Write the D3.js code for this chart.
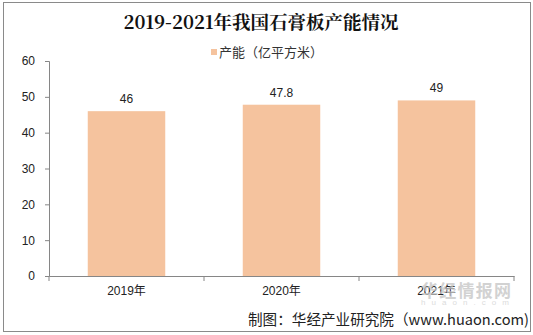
<!DOCTYPE html>
<html>
<head>
<meta charset="utf-8">
<script src="https://cdn.jsdelivr.net/npm/d3@7"></script>
<style>
  html, body { margin: 0; padding: 0; background: #fff; }
  svg { display: block; }
</style>
</head>
<body>
<svg id="chart" width="533" height="335"></svg>
<script>
// Gypsum board production capacity, 2019–2021 (100 million m²)
const years = ["2019年", "2020年", "2021年"];
const capacity = [46, 47.8, 49];
const yTicks = [0, 10, 20, 30, 40, 50, 60];
const titleText = "2019-2021年我国石膏板产能情况";
const legendText = "产能（亿平方米）";
const sourceText = "制图：华经产业研究院（www.huaon.com)";

const W = 533, H = 335;
const barColor = "#f5c39e";
const axisColor = "#868686";
const sans = "Arial, 'Liberation Sans', 'Noto Sans CJK SC', sans-serif";

const svg = d3.select("#chart");

// outer frame
svg.append("rect")
  .attr("x", 3.5).attr("y", 2.5)
  .attr("width", 527).attr("height", 329)
  .attr("fill", "#fff")
  .attr("stroke", "#8a8a8a")
  .attr("stroke-width", 1);

const plot = { left: 49, right: 514, top: 61, bottom: 276 };

const x = d3.scaleBand()
  .domain(years)
  .range([plot.left, plot.right])
  .paddingInner(0.5)
  .paddingOuter(0.25);

const y = d3.scaleLinear()
  .domain([0, 60])
  .range([plot.bottom, plot.top]);

// title
svg.append("text")
  .attr("x", 261).attr("y", 29)
  .attr("text-anchor", "middle")
  .attr("font-family", "'Noto Serif CJK SC', 'Liberation Serif', 'Noto Sans CJK SC', serif")
  .attr("font-weight", "bold")
  .attr("font-size", 18.5)
  .attr("fill", "#111")
  .text(titleText);

// legend
svg.append("rect")
  .attr("x", 211).attr("y", 49)
  .attr("width", 6).attr("height", 6)
  .attr("fill", barColor);
svg.append("text")
  .attr("x", 219).attr("y", 57)
  .attr("font-family", "'Noto Sans CJK SC', sans-serif")
  .attr("font-size", 13)
  .attr("fill", "#333")
  .text(legendText);

// bars
svg.append("g")
  .selectAll("rect")
  .data(capacity)
  .join("rect")
  .attr("x", (d, i) => x(years[i]))
  .attr("y", d => y(d))
  .attr("width", x.bandwidth())
  .attr("height", d => y(0) - y(d))
  .attr("fill", barColor);

// value labels
svg.append("g")
  .selectAll("text")
  .data(capacity)
  .join("text")
  .attr("x", (d, i) => x(years[i]) + x.bandwidth() / 2)
  .attr("y", d => y(d) - 8)
  .attr("text-anchor", "middle")
  .attr("font-family", sans)
  .attr("font-size", 12)
  .attr("fill", "#222")
  .text(d => d);

// y axis
const yAxis = svg.append("g")
  .attr("transform", `translate(${plot.left},0)`)
  .call(d3.axisLeft(y).tickValues(yTicks).tickSize(4).tickPadding(10));
yAxis.select(".domain").attr("stroke", axisColor);
yAxis.selectAll(".tick line").attr("stroke", axisColor);
yAxis.selectAll(".tick text")
  .attr("font-family", sans)
  .attr("font-size", 12)
  .attr("fill", "#222");

// x axis
const xAxis = svg.append("g")
  .attr("transform", `translate(0,${plot.bottom})`)
  .call(d3.axisBottom(x).tickSize(0).tickPadding(10));
xAxis.select(".domain").attr("stroke", axisColor);
xAxis.selectAll(".tick text")
  .attr("font-family", sans)
  .attr("font-size", 12)
  .attr("fill", "#222");

// category separators on the x axis
const edges = d3.range(years.length + 1).map(i => plot.left + i * x.step());
svg.append("g")
  .selectAll("line")
  .data(edges)
  .join("line")
  .attr("x1", d => d).attr("x2", d => d)
  .attr("y1", plot.bottom).attr("y2", plot.bottom + 5)
  .attr("stroke", axisColor);

// watermark
svg.append("text")
  .attr("x", 421).attr("y", 297)
  .attr("font-family", "'Noto Sans CJK SC', sans-serif")
  .attr("font-weight", "bold")
  .attr("font-size", 17)
  .attr("textLength", 90)
  .attr("fill", "#c4c4c4")
  .attr("opacity", 0.75)
  .text("华经情报网");
svg.append("text")
  .attr("x", 421).attr("y", 305)
  .attr("font-family", sans)
  .attr("font-size", 8)
  .attr("textLength", 88)
  .attr("fill", "#dcdcdc")
  .text("huaon.com");

// source
svg.append("text")
  .attr("x", 529).attr("y", 325)
  .attr("text-anchor", "end")
  .attr("font-family", "'Noto Sans CJK SC', sans-serif")
  .attr("font-size", 14.6)
  .attr("fill", "#222")
  .text(sourceText);
</script>
</body>
</html>
